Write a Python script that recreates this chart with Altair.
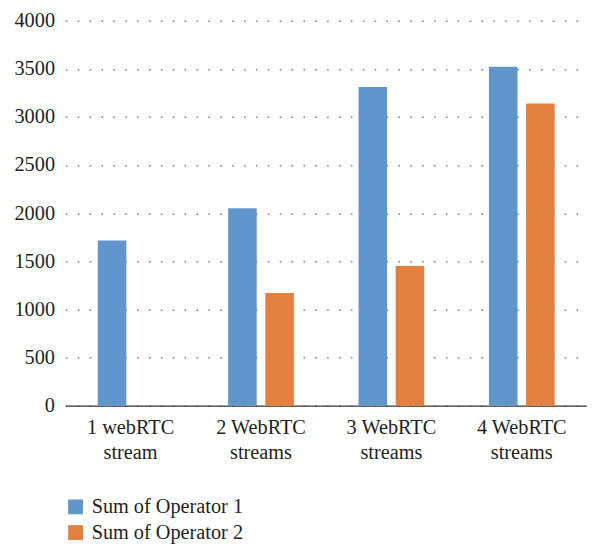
import altair as alt
import pandas as pd

categories = ["1 webRTC\nstream", "2 WebRTC\nstreams", "3 WebRTC\nstreams", "4 WebRTC\nstreams"]
series = ["Sum of Operator 1", "Sum of Operator 2"]
op1 = [1715, 2050, 3310, 3520]
op2 = [None, 1170, 1450, 3140]

rows = []
for c, a, b in zip(categories, op1, op2):
    rows.append({"cat": c, "series": series[0], "value": a})
    if b is not None:
        rows.append({"cat": c, "series": series[1], "value": b})
df = pd.DataFrame(rows)

FONT = "Liberation Serif"
TXT = "#231f20"

chart = alt.Chart(df).mark_bar().encode(
    x=alt.X("cat:N", sort=categories, title=None,
            scale=alt.Scale(paddingInner=0, paddingOuter=0),
            axis=alt.Axis(labelAngle=0, ticks=False, labelExpr="split(datum.label, '\\n')",
                          labelLineHeight=25, labelPadding=12, labelFontSize=20.5,
                          domainColor="#333333", domainWidth=1.2, labelBaseline="top")),
    xOffset=alt.XOffset("series:N", sort=series,
                        scale=alt.Scale(paddingInner=0.23, paddingOuter=0.87)),
    y=alt.Y("value:Q", title=None,
            scale=alt.Scale(domain=[0, 4000], nice=False),
            axis=alt.Axis(values=[0, 500, 1000, 1500, 2000, 2500, 3000, 3500, 4000],
                          format="d",
                          ticks=False, domain=False, labelPadding=11, labelFontSize=20.5,
                          gridDash=[1.5, 10.5], gridWidth=1.5, gridColor="#777777")),
    color=alt.Color("series:N", sort=series,
                    scale=alt.Scale(domain=series, range=["#6196CB", "#E4803F"]),
                    legend=alt.Legend(title=None, orient="none", legendX=0, legendY=481,
                                      direction="vertical", symbolType="square",
                                      symbolSize=225, symbolStrokeWidth=0,
                                      labelFontSize=20.5, rowPadding=5, labelOffset=6)),
).properties(
    width=527, height=389,
    autosize=alt.AutoSizeParams(type="none"),
    padding={"left": 58, "top": 10, "right": 0, "bottom": 138},
).configure(
    font=FONT,
).configure_axis(
    labelFont=FONT, labelColor=TXT,
).configure_legend(
    labelFont=FONT, labelColor=TXT,
).configure_view(stroke=None)

chart.save("out.html", embed_options={"renderer": "svg", "actions": False})
